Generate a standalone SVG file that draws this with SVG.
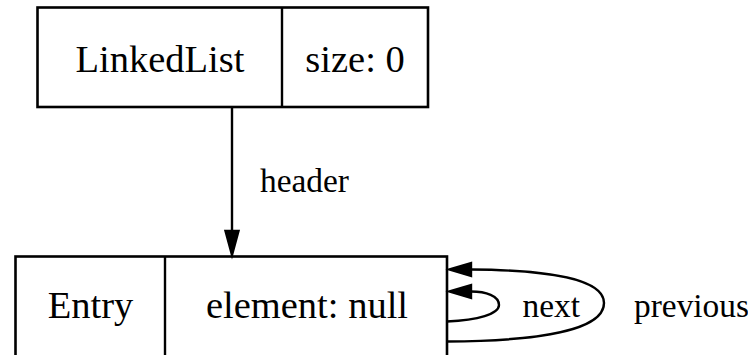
<svg xmlns="http://www.w3.org/2000/svg" width="748" height="355" viewBox="0 0 748 355">
  <style>
    .box { fill: #ffffff; stroke: #000000; stroke-width: 2.6; }
    .sep { stroke: #000000; stroke-width: 2.4; }
    .edge { fill: none; stroke: #000000; stroke-width: 2.4; }
    .head { fill: #000000; stroke: #000000; stroke-width: 2.4; }
    .nlabel { font-family: "Liberation Serif", "Times New Roman", serif; font-size: 38.5px; fill: #000000; text-anchor: middle; }
    .elabel { font-family: "Liberation Serif", "Times New Roman", serif; font-size: 33.4px; fill: #000000; }
  </style>
  <rect width="748" height="355" fill="#ffffff"/>

  <!-- LinkedList record -->
  <g id="linkedlist">
    <rect class="box" x="37.5" y="7.5" width="390.5" height="99.5"/>
    <line class="sep" x1="282" y1="7.5" x2="282" y2="107"/>
    <text class="nlabel" x="160" y="71.5">LinkedList</text>
    <text class="nlabel" x="355" y="71.5">size: 0</text>
  </g>

  <!-- Entry record (continues below the visible area) -->
  <g id="entry">
    <rect class="box" x="15.5" y="256.5" width="431.5" height="140"/>
    <line class="sep" x1="165" y1="256.5" x2="165" y2="396"/>
    <text class="nlabel" x="90.5" y="318">Entry</text>
    <text class="nlabel" x="307" y="318">element: null</text>
  </g>

  <!-- Connectors -->
  <g id="edges">
    <!-- header -->
    <g id="edge-header">
      <line class="edge" x1="232" y1="107" x2="232" y2="231"/>
      <polygon class="head" points="232,255 225.5,231 238.5,231"/>
      <text class="elabel" x="260" y="192">header</text>
    </g>
    <!-- next (inner self-loop) -->
    <g id="edge-next">
      <path class="edge" d="M447,321.5 C478,320 499,314 499,305 C499,296 486,291.5 471,291.5"/>
      <polygon class="head" points="449.5,291.5 471,285 471,298"/>
      <text class="elabel" x="522.5" y="317">next</text>
    </g>
    <!-- previous (outer self-loop) -->
    <g id="edge-previous">
      <path class="edge" d="M447,341.5 C540,341 604,330 604,303 C604,279 548,270 471,269.5"/>
      <polygon class="head" points="449.5,269.5 471,263 471,276"/>
      <text class="elabel" x="634" y="317">previous</text>
    </g>
  </g>
</svg>
